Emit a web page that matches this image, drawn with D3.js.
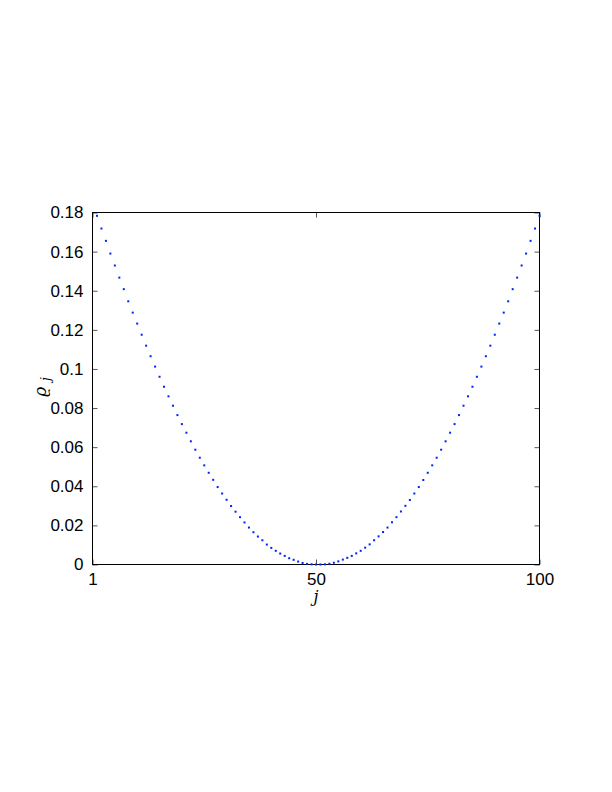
<!DOCTYPE html>
<html>
<head>
<meta charset="utf-8">
<script src="https://cdn.jsdelivr.net/npm/d3@7"></script>
<style>
  html, body { margin: 0; padding: 0; background: #fff; }
  svg { display: block; }
</style>
</head>
<body>
<script>
// ---- data ----
const rho = [
  0.1783, 0.1718, 0.1655, 0.1590, 0.1529, 0.1467, 0.1408, 0.1346, 0.1288, 0.1232,
  0.1175, 0.1119, 0.1065, 0.1012, 0.0960, 0.0909, 0.0860, 0.0812, 0.0764, 0.0718,
  0.0674, 0.0630, 0.0587, 0.0546, 0.0507, 0.0469, 0.0433, 0.0396, 0.0363, 0.0331,
  0.0299, 0.0270, 0.0242, 0.0215, 0.0189, 0.0165, 0.0143, 0.0124, 0.0102, 0.0085,
  0.0070, 0.0056, 0.0044, 0.0032, 0.0024, 0.0015, 0.0008, 0.0003, 0.0001, 0.0000,
  0.0000, 0.0001, 0.0004, 0.0009, 0.0016, 0.0025, 0.0034, 0.0044, 0.0057, 0.0070,
  0.0086, 0.0103, 0.0124, 0.0144, 0.0166, 0.0189, 0.0216, 0.0242, 0.0271, 0.0300,
  0.0330, 0.0363, 0.0396, 0.0432, 0.0469, 0.0507, 0.0546, 0.0587, 0.0630, 0.0674,
  0.0718, 0.0764, 0.0812, 0.0860, 0.0909, 0.0960, 0.1012, 0.1065, 0.1119, 0.1175,
  0.1232, 0.1288, 0.1346, 0.1408, 0.1467, 0.1529, 0.1590, 0.1655, 0.1718, 0.1783
];
const xTickValues = [0, 50, 100];
const xTickLabels = ["1", "50", "100"];
const yTickValues = [0, 0.02, 0.04, 0.06, 0.08, 0.1, 0.12, 0.14, 0.16, 0.18];
const yTickLabels = ["0", "0.02", "0.04", "0.06", "0.08", "0.1", "0.12", "0.14", "0.16", "0.18"];
const xDomain = [0, 100];
const yDomain = [0, 0.18];

// ---- layout ----
const W = 612, H = 792;
const L = 92.5, R = 539.5, T = 212.5, B = 564.5;
const font = "'Liberation Sans', Arial, Helvetica, sans-serif";

const svg = d3.select("body").append("svg").attr("width", W).attr("height", H);

const x = d3.scaleLinear().domain(xDomain).range([L, R]);
const y = d3.scaleLinear().domain(yDomain).range([B, T]);

// axes (ticks inward, MATLAB style)
const tickLen = 5;
const xAxisB = d3.axisBottom(x).tickValues(xTickValues)
  .tickFormat((d, i) => xTickLabels[i]).tickSizeInner(-tickLen).tickSizeOuter(0).tickPadding(8);
const xAxisT = d3.axisTop(x).tickValues(xTickValues)
  .tickFormat("").tickSizeInner(-tickLen).tickSizeOuter(0);
const yAxisL = d3.axisLeft(y).tickValues(yTickValues)
  .tickFormat((d, i) => yTickLabels[i]).tickSizeInner(-tickLen).tickSizeOuter(0).tickPadding(9);
const yAxisR = d3.axisRight(y).tickValues(yTickValues)
  .tickFormat("").tickSizeInner(-tickLen).tickSizeOuter(0);

function styleAxis(g) {
  g.select(".domain").remove();
  g.selectAll(".tick line").attr("stroke", "#555").attr("stroke-width", 1);
  g.selectAll(".tick text").attr("fill", "#000").style("font-family", font).style("font-size", "17px");
}

svg.append("g").attr("transform", `translate(0,${B})`).call(xAxisB).call(styleAxis);
svg.append("g").attr("transform", `translate(0,${T})`).call(xAxisT).call(styleAxis);
svg.append("g").attr("transform", `translate(${L},0)`).call(yAxisL).call(styleAxis);
svg.append("g").attr("transform", `translate(${R},0)`).call(yAxisR).call(styleAxis);

// frame
svg.append("rect")
  .attr("x", L).attr("y", T).attr("width", R - L).attr("height", B - T)
  .attr("fill", "none").attr("stroke", "#000").attr("stroke-width", 1);

// dotted series
svg.append("g").selectAll("rect.pt")
  .data(rho)
  .join("rect")
  .attr("class", "pt")
  .attr("x", (d, i) => x(i + 1) - 1)
  .attr("y", d => y(d) - 1)
  .attr("width", 2).attr("height", 2)
  .attr("fill", "#0022ff");

// x label
svg.append("text")
  .attr("x", x(50)).attr("y", 602)
  .attr("text-anchor", "middle")
  .style("font-family", "'DejaVu Serif', 'Liberation Serif', serif")
  .style("font-style", "italic").style("font-size", "16px")
  .text("j");

// y label (rotated)
const yl = svg.append("text")
  .attr("transform", "translate(46,387) rotate(-90)")
  .attr("text-anchor", "middle")
  .style("font-family", "'DejaVu Serif', 'Liberation Serif', serif")
  .style("font-style", "italic").style("font-size", "17px");
yl.append("tspan").text("ϱ");
yl.append("tspan").attr("dx", 6).attr("dy", 4).style("font-size", "12px").text("j");
</script>
</body>
</html>
